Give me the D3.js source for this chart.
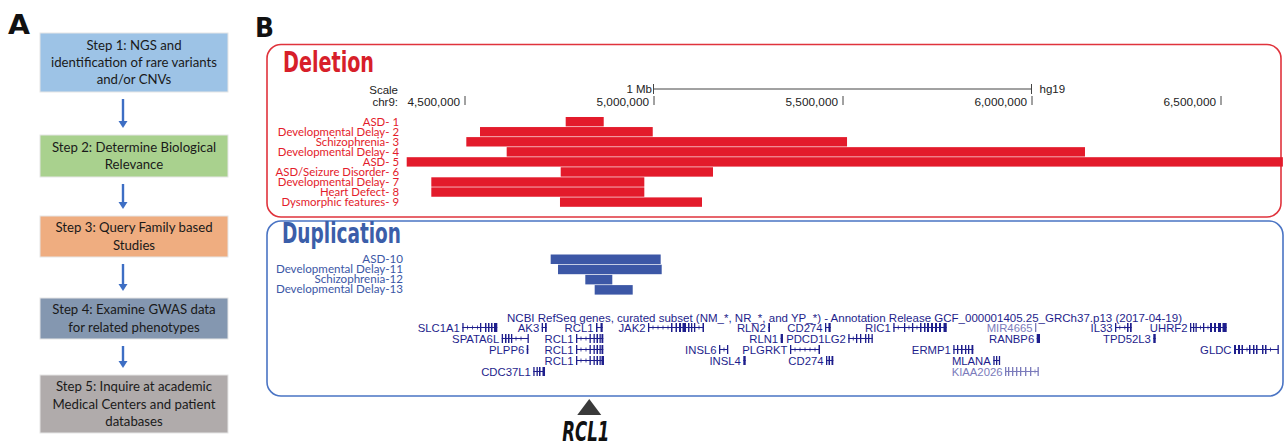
<!DOCTYPE html>
<html>
<head>
<meta charset="utf-8">
<script src="https://cdn.jsdelivr.net/npm/d3@7"></script>
<style>
  body { margin: 0; background: #fff; }
  svg { display: block; }
</style>
</head>
<body>
<div id="fig"></div>
<script>
// ---- data ----
// panel A workflow steps
var stepLines = [
  ["Step 1: NGS and", "identification of rare variants", "and/or CNVs"],
  ["Step 2: Determine Biological", "Relevance"],
  ["Step 3: Query Family based", "Studies"],
  ["Step 4: Examine GWAS data", "for related phenotypes"],
  ["Step 5: Inquire at academic", "Medical Centers and patient", "databases"]
];

// panel B deletions (chr9, hg19)
var delLabels = ["ASD- 1", "Developmental Delay- 2", "Schizophrenia- 3", "Developmental Delay- 4",
  "ASD- 5", "ASD/Seizure Disorder- 6", "Developmental Delay- 7", "Heart Defect- 8", "Dysmorphic features- 9"];
var delStarts = [4767700, 4541000, 4504800, 4611600, 4347100, 4754500, 4412200, 4412200, 4752600];
var delEnds   = [4868300, 4998000, 5512000, 6141500, 6665000, 5157400, 4975700, 4975700, 5128300];

// panel B duplications
var dupLabels = ["ASD-10", "Developmental Delay-11", "Schizophrenia-12", "Developmental Delay-13"];
var dupStarts = [4728000, 4747400, 4819600, 4844400];
var dupEnds   = [5019000, 5021700, 4891000, 4945000];

// ruler
var tickValues = [4500000, 5000000, 5500000, 6000000, 6500000];
var scaleBar = [5000000, 6000000];

// RefSeq genes
var geneNames = ["SLC1A1", "AK3", "RCL1", "JAK2", "RLN2", "CD274", "RIC1", "MIR4665", "IL33", "UHRF2",
  "SPATA6L", "RCL1", "RLN1", "PDCD1LG2", "RANBP6", "TPD52L3",
  "PLPP6", "RCL1", "INSL6", "PLGRKT", "ERMP1", "GLDC",
  "RCL1", "INSL4", "CD274", "MLANA",
  "CDC37L1", "KIAA2026"];
var geneRows = [0, 0, 0, 0, 0, 0, 0, 0, 0, 0,
  1, 1, 1, 1, 1, 1,
  2, 2, 2, 2, 2, 2,
  3, 3, 3, 3,
  4, 4];
var geneNoncoding = ["MIR4665", "KIAA2026"];
var geneExons = [
  [[4494200, 4497400], [4541000, 4543700], [4554200, 4558100], [4562200, 4566100], [4570100, 4574100], [4578000, 4586800]],
  [[4704200, 4707700], [4713000, 4717500]],
  [[4847900, 4851800], [4859800, 4865600]],
  [[4985400, 4988100], [5046300, 5050200], [5058200, 5062200], [5067500, 5072800], [5076700, 5086000],
   [5091300, 5095200], [5099200, 5101800], [5107100, 5109800], [5129600, 5133600]],
  [[5303700, 5308200]],
  [[5453700, 5456900], [5462800, 5468800]],
  [[5634400, 5637000], [5662700, 5665300], [5683800, 5686500], [5705000, 5709000], [5715600, 5719600],
   [5723600, 5728900], [5734200, 5739400], [5744700, 5750000], [5755300, 5760600], [5767200, 5775700]],
  [[6009300, 6012000]],
  [[6220900, 6223000], [6252700, 6256700], [6260600, 6265100]],
  [[6419300, 6421900], [6427200, 6429900], [6433800, 6436500], [6453700, 6456300], [6472200, 6477500],
   [6482800, 6488100], [6493400, 6501300], [6505300, 6516400]],
  [[4598400, 4601900], [4607100, 4611100], [4615100, 4619000], [4623000, 4625700], [4666700, 4668800]],
  [[4795000, 4797600], [4830700, 4833300], [4841300, 4843900], [4849200, 4853200], [4857100, 4859800], [4862400, 4867200]],
  [[5336400, 5342500]],
  [[5515300, 5518000], [5535700, 5538400], [5546300, 5549000], [5559600, 5562200], [5567500, 5570100], [5576700, 5579900]],
  [[6013800, 6022500]],
  [[6322200, 6328600]],
  [[4664600, 4668800]],
  [[4795000, 4797600], [4830700, 4833300], [4841300, 4843900], [4849200, 4853200], [4857100, 4859800], [4862400, 4867200]],
  [[5173300, 5175900], [5194400, 5197100]],
  [[5361100, 5363800], [5436500, 5440500]],
  [[5793100, 5796300], [5802900, 5805600], [5813500, 5817500], [5824100, 5826800], [5832000, 5834700], [5841300, 5846100]],
  [[6535700, 6541000], [6546300, 6551600], [6555500, 6559500], [6575400, 6579300], [6586000, 6589900],
   [6593900, 6597900], [6609800, 6613700], [6617700, 6621700], [6650800, 6652900]],
  [[4795000, 4797600], [4830700, 4833300], [4841300, 4843900], [4849200, 4853200], [4857100, 4859800], [4862400, 4869000]],
  [[5237600, 5243900]],
  [[5456400, 5459000], [5463000, 5467000], [5470900, 5475700]],
  [[5899000, 5901700], [5906100, 5908800], [5913600, 5916700]],
  [[4682000, 4685200], [4690500, 4693100], [4697100, 4701100], [4706300, 4713000]],
  [[5929900, 5932500], [5937800, 5940600], [5948500, 5951100], [5959100, 5961700], [5969600, 5972300],
   [5982900, 5985500], [5996100, 5998700], [6015900, 6018000]]
];
var trackTitle = "NCBI RefSeq genes, curated subset (NM_*, NR_*, and YP_*) - Annotation Release GCF_000001405.25_GRCh37.p13 (2017-04-19)";
var markerGene = "RCL1";
var markerPos = 4830000;

// ---- chart ----
var W = 1285, H = 447;
var svg = d3.select("#fig").append("svg").attr("width", W).attr("height", H);

var condensed = "'Liberation Sans Narrow', 'DejaVu Sans Condensed', 'Arial Narrow', sans-serif";
var helv = "'Liberation Sans', Arial, sans-serif";
var myriad = "Lato, 'Open Sans', sans-serif";

// panel letters
svg.append("text").attr("x", 8).attr("y", 34).text("A")
  .attr("font-family", "'DejaVu Sans', sans-serif").attr("font-weight", "bold").attr("font-size", 27)
  .attr("textLength", 22).attr("lengthAdjust", "spacingAndGlyphs").attr("fill", "#111");
svg.append("text").attr("x", 255).attr("y", 37).text("B")
  .attr("font-family", "'DejaVu Sans', sans-serif").attr("font-weight", "bold").attr("font-size", 27)
  .attr("textLength", 19).attr("lengthAdjust", "spacingAndGlyphs").attr("fill", "#111");

// ---- panel A ----
var boxTop = [33, 135, 216, 298, 375];
var boxBot = [92, 177, 257, 339, 433];
var boxFill = ["#9dc3e6", "#a9d18e", "#efad80", "#8497b0", "#b0abab"];
var panelA = svg.append("g");

stepLines.forEach(function(lines, i) {
  panelA.append("rect")
    .attr("x", 40).attr("y", boxTop[i])
    .attr("width", 188).attr("height", boxBot[i] - boxTop[i])
    .attr("fill", boxFill[i])
    .attr("stroke", "#e6e6e6").attr("stroke-width", 1);
  var cy = (boxTop[i] + boxBot[i]) / 2 + 4.5;
  lines.forEach(function(line, j) {
    panelA.append("text")
      .attr("x", 134).attr("y", cy + (j - (lines.length - 1) / 2) * 17.3)
      .attr("text-anchor", "middle")
      .attr("font-family", myriad).attr("font-size", 13.2)
      .attr("fill", "#1a1a1a")
      .text(line);
  });
  if (i < stepLines.length - 1) {
    var y0 = boxBot[i] + 7, y1 = boxTop[i + 1] - 7;
    panelA.append("line").attr("x1", 123).attr("x2", 123).attr("y1", y0).attr("y2", y1 - 6)
      .attr("stroke", "#3d6ec4").attr("stroke-width", 2.4);
    panelA.append("path")
      .attr("d", "M" + 118.5 + "," + (y1 - 7) + "L" + 127.5 + "," + (y1 - 7) + "L123," + y1 + "Z")
      .attr("fill", "#3d6ec4");
  }
});

// ---- panel B ----
var x = d3.scaleLinear().domain([4500000, 6500000]).range([464.5, 1220.5]);
var fmt = d3.format(",");

var delColor = "#e31b2b", dupColor = "#3c57a6", geneColor = "#1e1e8c", lightGene = "#7b7bbb";

// frames
svg.append("rect").attr("x", 267).attr("y", 44.5).attr("width", 1014).attr("height", 172.5)
  .attr("rx", 14).attr("fill", "none").attr("stroke", "#e0333c").attr("stroke-width", 1.6);
svg.append("rect").attr("x", 267).attr("y", 221).attr("width", 1016).attr("height", 175)
  .attr("rx", 14).attr("fill", "none").attr("stroke", "#4a74c4").attr("stroke-width", 1.6);

svg.append("text").attr("x", 283).attr("y", 72).text("Deletion")
  .attr("font-family", condensed).attr("font-weight", "bold").attr("font-size", 29)
  .attr("textLength", 91).attr("lengthAdjust", "spacingAndGlyphs").attr("fill", "#d71f2a");
svg.append("text").attr("x", 282).attr("y", 243).text("Duplication")
  .attr("font-family", condensed).attr("font-weight", "bold").attr("font-size", 29)
  .attr("textLength", 119).attr("lengthAdjust", "spacingAndGlyphs").attr("fill", "#3b5ea9");

// ruler
var ruler = svg.append("g").attr("font-family", helv).attr("fill", "#222");
ruler.append("text").attr("x", 398).attr("y", 94).attr("text-anchor", "end")
  .attr("font-size", 11.5).text("Scale");
ruler.append("text").attr("x", 398).attr("y", 106).attr("text-anchor", "end")
  .attr("font-size", 11.5).text("chr9:");
ruler.append("line").attr("x1", x(scaleBar[0])).attr("x2", x(scaleBar[1])).attr("y1", 89).attr("y2", 89)
  .attr("stroke", "#444").attr("stroke-width", 1);
scaleBar.forEach(function(v) {
  ruler.append("line").attr("x1", x(v)).attr("x2", x(v)).attr("y1", 84).attr("y2", 94)
    .attr("stroke", "#444").attr("stroke-width", 1);
});
ruler.append("text").attr("x", x(scaleBar[0]) - 1.5).attr("y", 93).attr("text-anchor", "end")
  .attr("font-size", 11.5).text("1 Mb");
ruler.append("text").attr("x", x(scaleBar[1]) + 8).attr("y", 93)
  .attr("font-size", 11.5).text("hg19");

var axis = d3.axisBottom(x).tickValues(tickValues).tickFormat(fmt).tickSizeInner(9).tickSizeOuter(0);
var axisG = svg.append("g").attr("transform", "translate(0,96)").call(axis);
axisG.select(".domain").remove();
axisG.selectAll(".tick line").attr("stroke", "#444");
axisG.selectAll(".tick text")
  .attr("text-anchor", "end").attr("x", -5).attr("y", 9.5).attr("dy", 0)
  .attr("font-family", helv).attr("font-size", 11.8).attr("fill", "#222");

// deletion bars
var delG = svg.append("g");
delG.selectAll("rect").data(delLabels).enter().append("rect")
  .attr("x", function(d, i) { return x(delStarts[i]); })
  .attr("y", function(d, i) { return 117 + i * 10.05; })
  .attr("width", function(d, i) { return x(delEnds[i]) - x(delStarts[i]); })
  .attr("height", 9.4)
  .attr("fill", delColor);
delG.selectAll("text").data(delLabels).enter().append("text")
  .attr("x", 399).attr("y", function(d, i) { return 125.5 + i * 10.05; })
  .attr("text-anchor", "end")
  .attr("font-family", myriad).attr("font-size", 11.4)
  .attr("fill", delColor)
  .text(function(d) { return d; });

// duplication bars
var dupG = svg.append("g");
dupG.selectAll("rect").data(dupLabels).enter().append("rect")
  .attr("x", function(d, i) { return x(dupStarts[i]); })
  .attr("y", function(d, i) { return 254.5 + i * 10.2; })
  .attr("width", function(d, i) { return x(dupEnds[i]) - x(dupStarts[i]); })
  .attr("height", 9.5)
  .attr("fill", dupColor);
dupG.selectAll("text").data(dupLabels).enter().append("text")
  .attr("x", 403).attr("y", function(d, i) { return 262.8 + i * 10.2; })
  .attr("text-anchor", "end")
  .attr("font-family", myriad).attr("font-size", 11.6)
  .attr("fill", dupColor)
  .text(function(d) { return d; });

// gene track
var geneG = svg.append("g").attr("font-family", helv);
geneG.append("text").attr("x", 507).attr("y", 321.5).attr("font-size", 11.2)
  .attr("textLength", 675).attr("lengthAdjust", "spacingAndGlyphs")
  .attr("fill", geneColor).text(trackTitle);

var rowBase = [331.5, 342.5, 353.5, 364.5, 375.5];
geneNames.forEach(function(name, i) {
  var ex = geneExons[i];
  var gs = ex[0][0], ge = ex[ex.length - 1][1];
  var col = geneNoncoding.indexOf(name) >= 0 ? lightGene : geneColor;
  var cy = rowBase[geneRows[i]] - 4;
  var g = geneG.append("g");
  g.append("text").attr("x", x(gs) - 2.5).attr("y", rowBase[geneRows[i]])
    .attr("text-anchor", "end").attr("font-size", 11.3).attr("fill", col).text(name);
  g.append("line").attr("x1", x(gs)).attr("x2", x(ge)).attr("y1", cy).attr("y2", cy)
    .attr("stroke", col).attr("stroke-width", 1);
  // little intron ticks
  for (var k = 0; k < ex.length - 1; k++) {
    var a = x(ex[k][1]), b = x(ex[k + 1][0]);
    for (var t = a + 4; t < b - 2; t += 5) {
      g.append("line").attr("x1", t).attr("x2", t).attr("y1", cy - 2).attr("y2", cy + 2)
        .attr("stroke", col).attr("stroke-width", 0.8);
    }
  }
  g.selectAll("rect").data(ex).enter().append("rect")
    .attr("x", function(d) { return x(d[0]); })
    .attr("y", cy - 4.5)
    .attr("width", function(d) { return Math.max(1.3, x(d[1]) - x(d[0])); })
    .attr("height", 9)
    .attr("fill", col);
});

// RCL1 marker
var mx = x(markerPos);
svg.append("path")
  .attr("d", "M" + mx + ",399L" + (mx + 12) + ",415L" + (mx - 12) + ",415Z")
  .attr("fill", "#3a3a3a");
svg.append("text").attr("x", mx - 27).attr("y", 441).text(markerGene)
  .attr("font-family", condensed).attr("font-weight", "bold").attr("font-style", "italic")
  .attr("font-size", 27).attr("textLength", 47).attr("lengthAdjust", "spacingAndGlyphs")
  .attr("fill", "#111");
</script>
</body>
</html>
